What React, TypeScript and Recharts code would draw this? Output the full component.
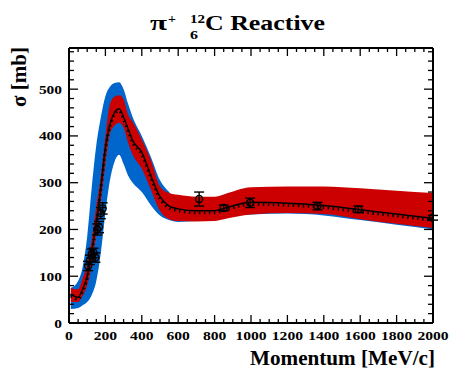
import React from "react";
import { ComposedChart, Area, Line, Scatter, ErrorBar, XAxis, YAxis } from "recharts";

// theory grid (MeV/c)
const momentum = [10, 50, 75, 100, 125, 150, 175, 200, 225, 250, 275, 300, 325, 350, 400, 450, 500, 550, 600, 700, 800, 850, 1000, 1200, 1400, 1600, 1800, 2000];
const theory = [62, 55, 72, 100, 155, 215, 290, 375, 425, 450, 458, 440, 415, 390, 365, 315, 270, 250, 244, 240, 240, 245, 258, 256, 251, 242, 233, 224];
const redLow = [45, 45, 58, 80, 125, 190, 260, 340, 405, 422, 428, 418, 385, 360, 330, 285, 240, 222, 218, 217, 218, 222, 232, 235, 233, 222, 212, 203];
const redHigh = [75, 72, 95, 125, 180, 250, 315, 400, 468, 484, 487, 478, 445, 430, 392, 348, 292, 278, 274, 270, 270, 275, 290, 292, 292, 288, 283, 278];
const blueLow = [30, 32, 38, 45, 60, 90, 150, 235, 305, 345, 360, 340, 315, 300, 280, 252, 230, 220, 216, 218, 220, 225, 232, 234, 230, 220, 210, 200];
const blueHigh = [75, 90, 120, 185, 290, 380, 440, 485, 505, 513, 515, 500, 468, 440, 400, 355, 305, 280, 260, 255, 255, 258, 268, 270, 268, 262, 255, 248];

// measurements
const expP = [105, 115, 125, 135, 145, 155, 165, 175, 185, 715, 850, 995, 1365, 1590, 2000];
const expS = [122, 135, 148, 150, 140, 200, 205, 235, 245, 265, 246, 257, 250, 243, 225];
const expE = [10, 10, 10, 10, 10, 12, 12, 12, 12, 15, 6, 10, 8, 7, 5];

const xTicks = Array.from({ length: 41 }, (_, i) => i * 50);
const yTicks = Array.from({ length: 30 }, (_, i) => i * 20);

const bands = momentum.map((p, i) => ({
  p,
  theory: theory[i],
  red: [redLow[i], redHigh[i]],
  blue: [blueLow[i], blueHigh[i]],
}));
const points = expP.map((p, i) => ({ p, s: expS[i], e: expE[i] }));

const FONT = '"Liberation Serif", "DejaVu Serif", serif';

const BottomTick = (props: any) => {
  const { x, y, payload } = props;
  const v = payload.value;
  const major = v % 200 === 0;
  const s = String(v);
  return (
    <g>
      <line x1={x} x2={x} y1={y} y2={y - (major ? 8 : 4)} stroke="#000" strokeWidth={1.3} />
      {major && (
        <text x={x - s.length * 3.9} y={y + 17} textLength={s.length * 7.8} lengthAdjust="spacingAndGlyphs" fontFamily={FONT} fontWeight="bold" fontSize={13} fill="#000">
          {s}
        </text>
      )}
    </g>
  );
};

const TopTick = (props: any) => {
  const { x, y, payload } = props;
  const major = payload.value % 200 === 0;
  return <line x1={x} x2={x} y1={y} y2={y + (major ? 8 : 4)} stroke="#000" strokeWidth={1.3} />;
};

const LeftTick = (props: any) => {
  const { x, y, payload } = props;
  const v = payload.value;
  const major = v % 100 === 0;
  const s = String(v);
  return (
    <g>
      <line x1={x} x2={x + (major ? 9 : 5)} y1={y} y2={y} stroke="#000" strokeWidth={1.3} />
      {major && (
        <text x={x - 7 - s.length * 7.7} y={y + 4.5} textLength={s.length * 7.7} lengthAdjust="spacingAndGlyphs" fontFamily={FONT} fontWeight="bold" fontSize={13} fill="#000">
          {s}
        </text>
      )}
    </g>
  );
};

const RightTick = (props: any) => {
  const { x, y, payload } = props;
  const major = payload.value % 100 === 0;
  return <line x1={x} x2={x - (major ? 9 : 5)} y1={y} y2={y} stroke="#000" strokeWidth={1.3} />;
};

const OpenCircle = (props: any) => {
  const { cx, cy } = props;
  return <circle cx={cx} cy={cy} r={3.5} fill="none" stroke="#000" strokeWidth={1.4} />;
};

const axisStroke = { stroke: "#000", strokeWidth: 2 };

export default function App() {
  return (
    <div style={{ position: "absolute", left: 0, top: 0, width: 450, height: 371, background: "#fff" }}>
      <ComposedChart
        width={450}
        height={371}
        data={bands}
        margin={{ top: 47, right: 16, bottom: 47, left: 68 }}
      >
        <XAxis xAxisId="b" dataKey="p" type="number" domain={[0, 2000]} ticks={xTicks} interval={0} height={1}
          tickSize={0} tickMargin={0} tickLine={false} axisLine={axisStroke} tick={<BottomTick />} allowDataOverflow />
        <XAxis xAxisId="t" orientation="top" dataKey="p" type="number" domain={[0, 2000]} ticks={xTicks} interval={0} height={1}
          tickSize={0} tickMargin={0} tickLine={false} axisLine={axisStroke} tick={<TopTick />} allowDataOverflow />
        <YAxis yAxisId="l" type="number" domain={[0, 588]} ticks={yTicks} interval={0} width={1}
          tickSize={0} tickMargin={0} tickLine={false} axisLine={axisStroke} tick={<LeftTick />} allowDataOverflow />
        <YAxis yAxisId="r" orientation="right" type="number" domain={[0, 588]} ticks={yTicks} interval={0} width={1}
          tickSize={0} tickMargin={0} tickLine={false} axisLine={axisStroke} tick={<RightTick />} allowDataOverflow />
        <Area xAxisId="b" yAxisId="l" type="monotone" dataKey="blue" fill="#0066cc" fillOpacity={1} stroke="none" isAnimationActive={false} />
        <Area xAxisId="b" yAxisId="l" type="monotone" dataKey="red" fill="#cc0000" fillOpacity={1} stroke="none" isAnimationActive={false} />
        <Line xAxisId="b" yAxisId="l" type="monotone" dataKey="theory" stroke="#000" strokeWidth={3} strokeDasharray="1.5 3.5" dot={false} isAnimationActive={false} style={{ transform: "translate(0px, 2px)" }} />
        <Line xAxisId="b" yAxisId="l" type="monotone" dataKey="theory" stroke="#000" strokeWidth={1.5} dot={false} isAnimationActive={false} />
        <Scatter xAxisId="b" yAxisId="l" data={points} dataKey="s" shape={<OpenCircle />} isAnimationActive={false}>
          <ErrorBar dataKey="e" direction="y" width={5} stroke="#000" strokeWidth={1.4} />
        </Scatter>
      </ComposedChart>
      <svg width={450} height={371} style={{ position: "absolute", left: 0, top: 0, pointerEvents: "none" }}>
        <g fontFamily={FONT} fontWeight="bold" fill="#000">
          <text x={150} y={30} fontSize={22} textLength={17} lengthAdjust="spacingAndGlyphs">π</text>
          <text x={168} y={23} fontSize={13} textLength={8} lengthAdjust="spacingAndGlyphs">+</text>
          <text x={190} y={23} fontSize={13} textLength={15} lengthAdjust="spacingAndGlyphs">12</text>
          <text x={190} y={39} fontSize={13} textLength={8} lengthAdjust="spacingAndGlyphs">6</text>
          <text x={205} y={30} fontSize={22} textLength={120} lengthAdjust="spacingAndGlyphs">C Reactive</text>
          <text x={250} y={365} fontSize={22} textLength={185} lengthAdjust="spacingAndGlyphs">Momentum [MeV/c]</text>
          <text transform="translate(26,107) rotate(-90)" fontSize={20} textLength={60} lengthAdjust="spacingAndGlyphs">σ [mb]</text>
        </g>
      </svg>
    </div>
  );
}
